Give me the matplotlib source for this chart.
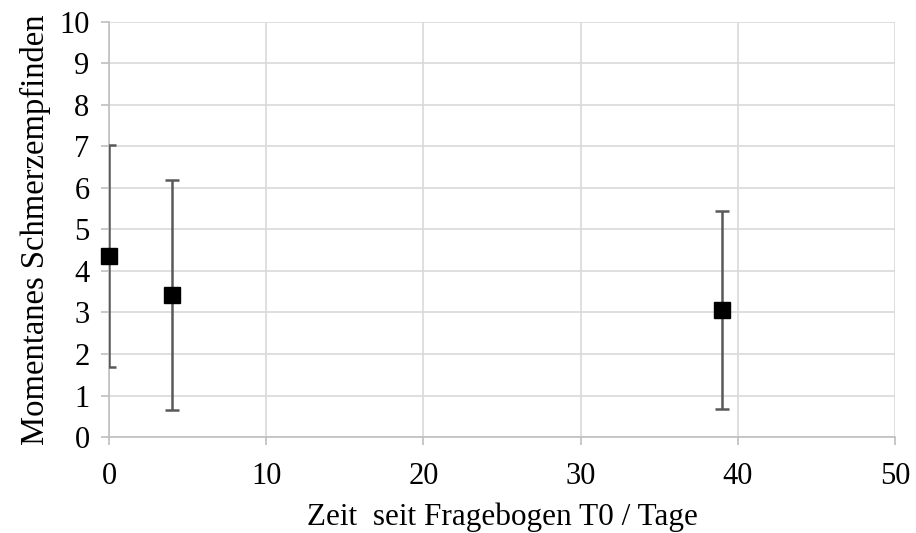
import matplotlib.pyplot as plt

plt.rcParams['font.family'] = ['Liberation Serif', 'DejaVu Serif']

# Tage seit T0 und Mittelwerte mit Standardabweichung
tage = [0, 4, 39]
mittel = [4.36, 3.42, 3.06]
sd = [2.68, 2.77, 2.38]

fig = plt.figure(figsize=(9.16, 5.33), dpi=100)
ax = fig.add_axes([0.119, 0.180, 0.858, 0.779])

ax.errorbar(tage, mittel, yerr=sd, fmt='none', ecolor='#595959',
            elinewidth=1.8, capsize=5, capthick=1.8, zorder=3)
ax.plot(tage, mittel, 's', color='black', markersize=11, zorder=4, clip_on=False)

ax.set_xlim(0, 50)
ax.set_ylim(0, 10)
ax.set_xticks(range(0, 51, 10))
ax.set_yticks(range(0, 11))
ax.grid(True, color='#d9d9d9', linewidth=1.2)
ax.set_axisbelow(True)

for s in ['top', 'right']:
    ax.spines[s].set_visible(False)
for s in ['left', 'bottom']:
    ax.spines[s].set_color('#bfbfbf')
    ax.spines[s].set_linewidth(1.2)
ax.tick_params(axis='both', colors='#bfbfbf', labelcolor='black',
               labelsize=22, length=6, width=1.2, direction='out')
ax.tick_params(axis='x', pad=12)
ax.tick_params(axis='y', pad=8)

ax.set_xlabel('Zeit  seit Fragebogen T0 / Tage', fontsize=22.5, labelpad=8)
ax.set_ylabel('Momentanes Schmerzempfinden', fontsize=23.5, labelpad=6)

fig.savefig('out.png', dpi=100)
